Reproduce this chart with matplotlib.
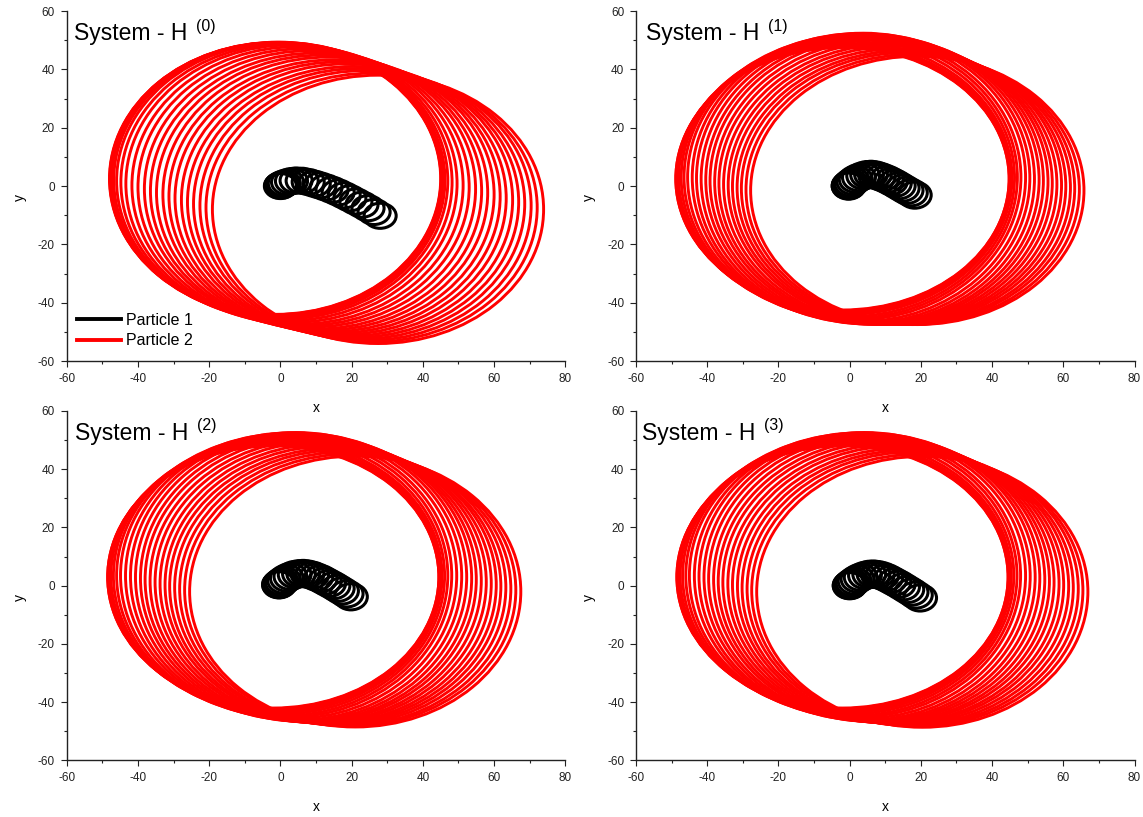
import matplotlib
matplotlib.use('Agg')
import matplotlib.pyplot as plt
from matplotlib.patches import Ellipse
from matplotlib.ticker import MultipleLocator

plt.rcParams['font.family'] = ['Liberation Sans', 'DejaVu Sans']
plt.rcParams['axes.unicode_minus'] = False

# one entry per revolution (centre x, centre y, half height)
# System - H(0)
red_cx_0 = [-1.5, -1.4, -1.3, -0.9, -0.3, 0.5, 1.7, 3.1, 4.8, 6.5, 8.3, 10.0, 11.7, 13.5, 15.2, 16.9, 18.7, 20.4, 22.1, 23.9, 25.6, 27.4]
red_cy_0 = [2.5, 2.5, 2.4, 2.3, 2.1, 1.8, 1.3, 0.8, 0.2, -0.4, -1.0, -1.7, -2.3, -2.9, -3.6, -4.2, -4.8, -5.5, -6.1, -6.7, -7.4, -8.0]
red_hh_0 = [46.5, 46.6, 46.8, 47.0, 47.2, 47.4, 47.5, 47.6, 47.6, 47.5, 47.4, 47.3, 47.2, 47.1, 46.9, 46.8, 46.7, 46.5, 46.4, 46.3, 46.1, 46.0]
red_hw_0 = 46.5
blk_cx_0 = [0.0, 0.1, 0.2, 0.6, 1.1, 2.0, 3.1, 4.4, 6.1, 7.8, 9.5, 11.1, 12.8, 14.5, 16.2, 17.9, 19.5, 21.2, 22.9, 24.6, 26.3, 28.0]
blk_cy_0 = [0.0, 0.1, 0.3, 0.6, 0.9, 1.3, 1.7, 1.9, 1.8, 1.4, 0.8, 0.2, -0.5, -1.3, -2.2, -3.2, -4.2, -5.3, -6.4, -7.6, -8.9, -10.2]
blk_rx_0, blk_ry_0 = 4.5, 4.3

# System - H(1)
red_cx_1 = [-2.0, -2.0, -1.8, -1.6, -1.2, -0.5, 0.3, 1.3, 2.6, 3.8, 5.1, 6.4, 7.6, 8.9, 10.1, 11.4, 12.7, 13.9, 15.2, 16.4, 17.7, 19.0]
red_cy_1 = [2.5, 2.5, 2.6, 2.7, 2.8, 2.9, 3.0, 3.0, 2.9, 2.7, 2.4, 2.1, 1.8, 1.4, 1.0, 0.6, 0.3, -0.1, -0.5, -0.8, -1.2, -1.5]
red_hh_1 = [45.0, 45.2, 45.6, 46.2, 46.9, 47.7, 48.4, 48.9, 49.4, 49.7, 49.7, 49.5, 49.2, 48.8, 48.4, 48.0, 47.6, 47.2, 46.9, 46.6, 46.3, 46.0]
red_hw_1 = 46.8
blk_cx_1 = [-0.3, -0.3, -0.2, 0.1, 0.4, 1.0, 1.7, 2.6, 3.8, 4.9, 6.0, 7.1, 8.2, 9.3, 10.5, 11.6, 12.7, 13.8, 14.9, 16.0, 17.2, 18.3]
blk_cy_1 = [0.0, 0.1, 0.3, 0.6, 1.0, 1.6, 2.3, 2.9, 3.5, 3.9, 4.0, 3.8, 3.4, 2.9, 2.3, 1.6, 0.9, 0.1, -0.7, -1.5, -2.3, -3.1]
blk_rx_1, blk_ry_1 = 4.6, 4.5

# System - H(2)
red_cx_2 = [-2.0, -2.0, -1.8, -1.5, -1.1, -0.4, 0.5, 1.6, 3.0, 4.4, 5.8, 7.2, 8.5, 9.9, 11.3, 12.7, 14.1, 15.4, 16.8, 18.2, 19.6, 21.0]
red_cy_2 = [3.0, 3.0, 3.1, 3.2, 3.3, 3.4, 3.5, 3.5, 3.4, 3.2, 2.9, 2.5, 2.1, 1.6, 1.2, 0.7, 0.3, -0.2, -0.6, -1.1, -1.5, -2.0]
red_hh_2 = [45.0, 45.2, 45.6, 46.2, 46.8, 47.5, 48.2, 48.7, 49.1, 49.4, 49.4, 49.2, 48.9, 48.6, 48.3, 48.0, 47.7, 47.4, 47.2, 47.0, 46.7, 46.5]
red_hw_2 = 46.5
blk_cx_2 = [-0.4, -0.4, -0.2, 0.0, 0.4, 1.0, 1.8, 2.8, 4.0, 5.2, 6.4, 7.6, 8.9, 10.1, 11.3, 12.5, 13.7, 14.9, 16.1, 17.3, 18.6, 19.8]
blk_cy_2 = [0.3, 0.4, 0.6, 0.9, 1.3, 1.9, 2.6, 3.2, 3.8, 4.1, 4.2, 4.0, 3.6, 3.0, 2.4, 1.6, 0.8, 0.0, -0.9, -1.8, -2.8, -3.8]
blk_rx_2, blk_ry_2 = 4.6, 4.5

# System - H(3)
red_cx_3 = [-2.0, -2.0, -1.8, -1.6, -1.1, -0.4, 0.5, 1.5, 2.9, 4.2, 5.6, 6.9, 8.3, 9.6, 10.9, 12.3, 13.6, 15.0, 16.3, 17.7, 19.0, 20.4]
red_cy_3 = [3.0, 3.0, 3.1, 3.2, 3.3, 3.4, 3.5, 3.5, 3.4, 3.2, 2.9, 2.5, 2.1, 1.6, 1.2, 0.7, 0.3, -0.2, -0.7, -1.1, -1.6, -2.1]
red_hh_3 = [45.0, 45.2, 45.6, 46.2, 46.8, 47.5, 48.2, 48.7, 49.1, 49.4, 49.4, 49.2, 48.9, 48.6, 48.3, 48.0, 47.7, 47.4, 47.2, 47.0, 46.7, 46.5]
red_hw_3 = 46.5
blk_cx_3 = [0.0, 0.0, 0.2, 0.4, 0.8, 1.4, 2.2, 3.1, 4.3, 5.5, 6.7, 7.9, 9.1, 10.3, 11.4, 12.6, 13.8, 15.0, 16.2, 17.4, 18.6, 19.8]
blk_cy_3 = [0.0, 0.1, 0.3, 0.6, 1.0, 1.6, 2.3, 2.9, 3.5, 3.9, 4.0, 3.8, 3.4, 2.8, 2.1, 1.3, 0.5, -0.4, -1.3, -2.2, -3.2, -4.2]
blk_rx_3, blk_ry_3 = 4.6, 4.5

orders = ['(0)', '(1)', '(2)', '(3)']
series_names = ['Particle 1', 'Particle 2']

panels = [
    (red_cx_0, red_cy_0, red_hh_0, red_hw_0, blk_cx_0, blk_cy_0, blk_rx_0, blk_ry_0),
    (red_cx_1, red_cy_1, red_hh_1, red_hw_1, blk_cx_1, blk_cy_1, blk_rx_1, blk_ry_1),
    (red_cx_2, red_cy_2, red_hh_2, red_hw_2, blk_cx_2, blk_cy_2, blk_rx_2, blk_ry_2),
    (red_cx_3, red_cy_3, red_hh_3, red_hw_3, blk_cx_3, blk_cy_3, blk_rx_3, blk_ry_3),
]

# axes boxes in figure fractions (left, bottom, width, height)
boxes = [
    [0.0584, 0.5581, 0.4362, 0.4284],
    [0.5564, 0.5581, 0.4362, 0.4284],
    [0.0584, 0.0692, 0.4362, 0.4278],
    [0.5564, 0.0692, 0.4362, 0.4278],
]
title_x = [0.0146, 0.020, 0.016, 0.012]

fig = plt.figure(figsize=(11.43, 8.17), dpi=100)

for i, (rcx, rcy, rhh, rhw, bcx, bcy, brx, bry) in enumerate(panels):
    ax = fig.add_axes(boxes[i])
    ax.set_facecolor('none')  # so the x label of the upper row is not hidden

    # particle 2 - big precessing loops
    for cx, cy, hh in zip(rcx, rcy, rhh):
        ax.add_patch(Ellipse((cx, cy), 2 * rhw, 2 * hh, fill=False, ec='#ff0000', lw=2.1))
    # particle 1 - small loops
    for cx, cy in zip(bcx, bcy):
        ax.add_patch(Ellipse((cx, cy), 2 * brx, 2 * bry, fill=False, ec='black', lw=2.2))

    ax.set_xlim(-60, 80)
    ax.set_ylim(-60, 60)
    ax.xaxis.set_major_locator(MultipleLocator(20))
    ax.xaxis.set_minor_locator(MultipleLocator(10))
    ax.yaxis.set_major_locator(MultipleLocator(20))
    ax.yaxis.set_minor_locator(MultipleLocator(10))
    ax.tick_params(which='both', direction='out', width=0.8, labelsize=8.5, pad=4, colors='#222222')
    ax.tick_params(which='major', length=4.5)
    ax.tick_params(which='minor', length=2.5)
    ax.spines['top'].set_visible(False)
    ax.spines['right'].set_visible(False)
    for s in ['left', 'bottom']:
        ax.spines[s].set_linewidth(1.0)
        ax.spines[s].set_color('#222222')

    ax.set_xlabel('x', fontsize=10)
    ax.set_ylabel('y', fontsize=10)
    ax.xaxis.set_label_coords(0.5, -0.114)
    ax.yaxis.set_label_coords(-0.08, 0.466)

    t = ax.text(title_x[i], 0.917, 'System - H', transform=ax.transAxes,
                fontsize=16.5, va='baseline', ha='left')
    ax.annotate(orders[i], xy=(1, 1), xycoords=t, xytext=(6.5, 2.5),
                textcoords='offset points', fontsize=11.5, va='top', ha='left')

    if i == 0:
        ax.plot([], [], color='black', lw=2.8, label=series_names[0])
        ax.plot([], [], color='#ff0000', lw=2.8, label=series_names[1])
        ax.legend(loc='lower left', bbox_to_anchor=(0.02, 0.036), frameon=False,
                  fontsize=11.5, handlelength=2.8, handletextpad=0.3,
                  labelspacing=0.35, borderpad=0, borderaxespad=0)

fig.savefig('out.png', dpi=100)
